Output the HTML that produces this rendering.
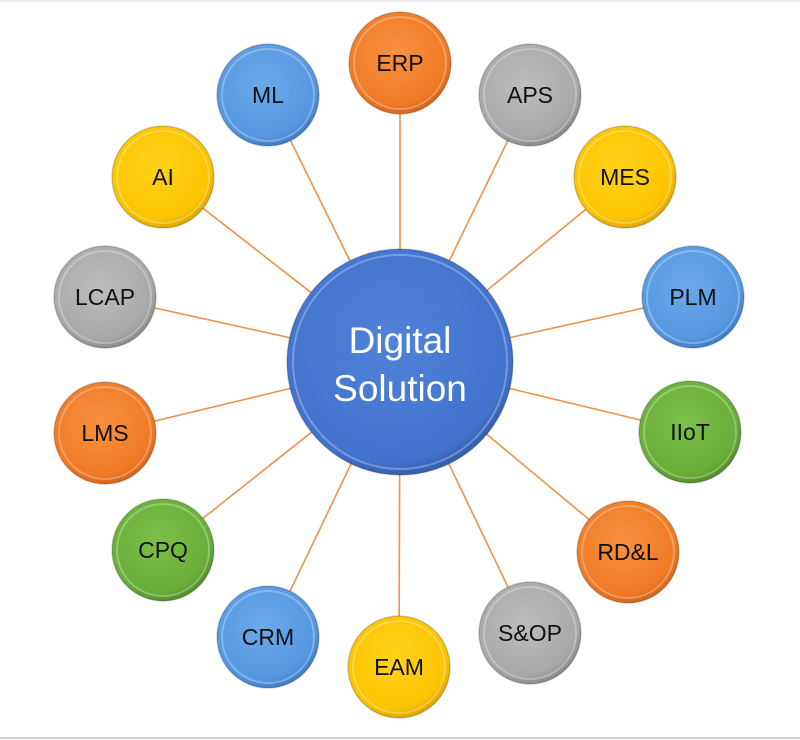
<!DOCTYPE html>
<html><head><style>
html,body{margin:0;padding:0;background:#fff;}
svg{display:block;}
text{font-family:"Liberation Sans",sans-serif;}
</style></head><body>
<svg width="800" height="740" viewBox="0 0 800 740" xmlns="http://www.w3.org/2000/svg">
<defs>
<radialGradient id="or" cx="45%" cy="40%" r="60%"><stop offset="0" stop-color="#f8913f"/><stop offset="0.85" stop-color="#f07a25"/><stop offset="1" stop-color="#d8651a"/></radialGradient>
<radialGradient id="gy" cx="45%" cy="40%" r="60%"><stop offset="0" stop-color="#bdbdbd"/><stop offset="0.85" stop-color="#a8a8a8"/><stop offset="1" stop-color="#8c8c8c"/></radialGradient>
<radialGradient id="ye" cx="45%" cy="40%" r="60%"><stop offset="0" stop-color="#ffd21a"/><stop offset="0.85" stop-color="#fcc400"/><stop offset="1" stop-color="#e0a800"/></radialGradient>
<radialGradient id="bl" cx="45%" cy="40%" r="60%"><stop offset="0" stop-color="#6aa9ea"/><stop offset="0.85" stop-color="#5698e0"/><stop offset="1" stop-color="#3f7fc8"/></radialGradient>
<radialGradient id="gr" cx="45%" cy="40%" r="60%"><stop offset="0" stop-color="#7cc04a"/><stop offset="0.85" stop-color="#6aae3a"/><stop offset="1" stop-color="#548f2b"/></radialGradient>
<radialGradient id="cb" cx="45%" cy="40%" r="60%"><stop offset="0" stop-color="#4f82d8"/><stop offset="0.9" stop-color="#4273cc"/><stop offset="1" stop-color="#3560b0"/></radialGradient>
</defs>
<rect x="0" y="0" width="800" height="740" fill="#fff"/>
<line x1="0" y1="1" x2="800" y2="1" stroke="#ececec" stroke-width="2"/>
<line x1="0" y1="738" x2="800" y2="738" stroke="#d0d0d0" stroke-width="2"/>
<g stroke="#f0914a" stroke-width="1.6">
<line x1="400" y1="362" x2="400" y2="63"/>
<line x1="400" y1="362" x2="530" y2="95"/>
<line x1="400" y1="362" x2="625" y2="177"/>
<line x1="400" y1="362" x2="693" y2="297"/>
<line x1="400" y1="362" x2="690" y2="432"/>
<line x1="400" y1="362" x2="628" y2="552"/>
<line x1="400" y1="362" x2="530" y2="633"/>
<line x1="400" y1="362" x2="399" y2="667"/>
<line x1="400" y1="362" x2="268" y2="637"/>
<line x1="400" y1="362" x2="163" y2="550"/>
<line x1="400" y1="362" x2="105" y2="433"/>
<line x1="400" y1="362" x2="105" y2="297"/>
<line x1="400" y1="362" x2="163" y2="177"/>
<line x1="400" y1="362" x2="268" y2="95"/>
</g>
<g stroke-width="1.5" stroke="rgba(0,0,0,0.18)">
<circle cx="400" cy="63" r="51" fill="url(#or)"/>
<circle cx="530" cy="95" r="51" fill="url(#gy)"/>
<circle cx="625" cy="177" r="51" fill="url(#ye)"/>
<circle cx="693" cy="297" r="51" fill="url(#bl)"/>
<circle cx="690" cy="432" r="51" fill="url(#gr)"/>
<circle cx="628" cy="552" r="51" fill="url(#or)"/>
<circle cx="530" cy="633" r="51" fill="url(#gy)"/>
<circle cx="399" cy="667" r="51" fill="url(#ye)"/>
<circle cx="268" cy="637" r="51" fill="url(#bl)"/>
<circle cx="163" cy="550" r="51" fill="url(#gr)"/>
<circle cx="105" cy="433" r="51" fill="url(#or)"/>
<circle cx="105" cy="297" r="51" fill="url(#gy)"/>
<circle cx="163" cy="177" r="51" fill="url(#ye)"/>
<circle cx="268" cy="95" r="51" fill="url(#bl)"/>
<circle cx="400" cy="362" r="113" fill="url(#cb)"/>
</g>
<g fill="none" stroke="rgba(255,255,255,0.28)" stroke-width="2">
<circle cx="400" cy="63" r="46"/>
<circle cx="530" cy="95" r="46"/>
<circle cx="625" cy="177" r="46"/>
<circle cx="693" cy="297" r="46"/>
<circle cx="690" cy="432" r="46"/>
<circle cx="628" cy="552" r="46"/>
<circle cx="530" cy="633" r="46"/>
<circle cx="399" cy="667" r="46"/>
<circle cx="268" cy="637" r="46"/>
<circle cx="163" cy="550" r="46"/>
<circle cx="105" cy="433" r="46"/>
<circle cx="105" cy="297" r="46"/>
<circle cx="163" cy="177" r="46"/>
<circle cx="268" cy="95" r="46"/>
<circle cx="400" cy="362" r="107"/>
</g>
<g font-size="23" fill="#111" text-anchor="middle">
<text x="400" y="71">ERP</text>
<text x="530" y="103">APS</text>
<text x="625" y="185">MES</text>
<text x="693" y="305">PLM</text>
<text x="690" y="440">IIoT</text>
<text x="628" y="560">RD&amp;L</text>
<text x="530" y="641">S&amp;OP</text>
<text x="399" y="675">EAM</text>
<text x="268" y="645">CRM</text>
<text x="163" y="558">CPQ</text>
<text x="105" y="441">LMS</text>
<text x="105" y="305">LCAP</text>
<text x="163" y="185">AI</text>
<text x="268" y="103">ML</text>
</g>
<g font-size="37" fill="#fff" text-anchor="middle">
<text x="400" y="353">Digital</text>
<text x="400" y="401">Solution</text>
</g>
</svg>
</body></html>
